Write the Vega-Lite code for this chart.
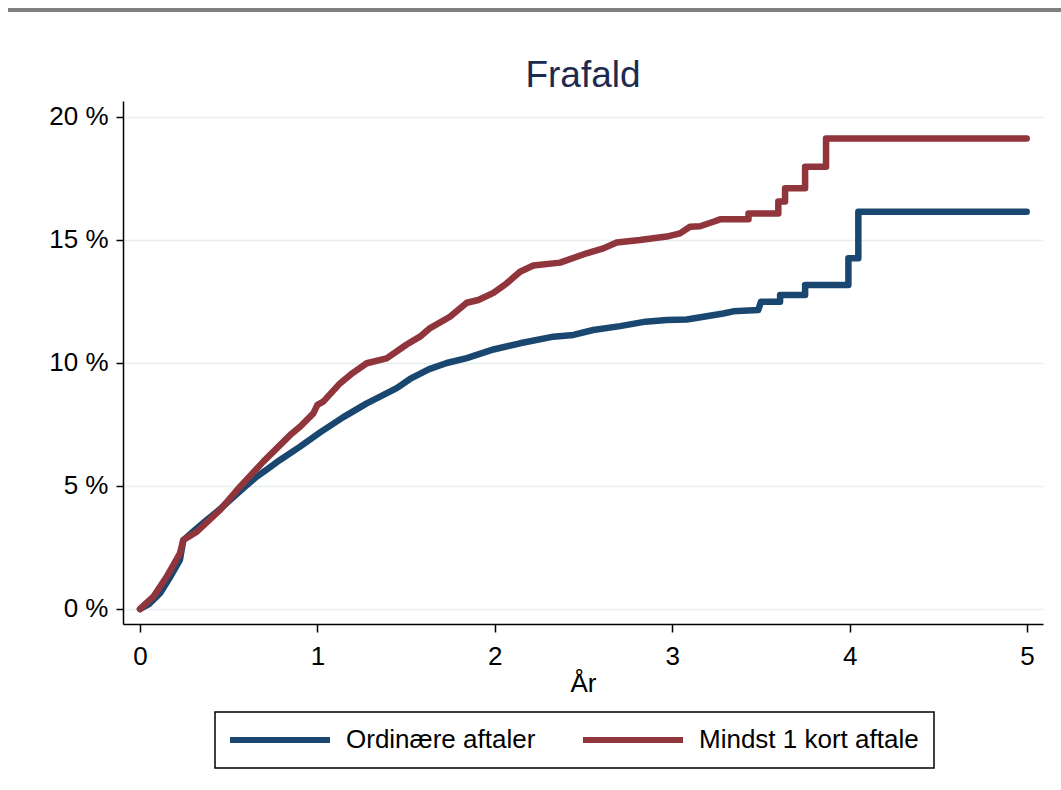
{
  "$schema": "https://vega.github.io/schema/vega-lite/v6.json",
  "width": 920,
  "height": 523,
  "autosize": {"type": "none"},
  "padding": {"left": 123, "top": 101, "right": 18, "bottom": 166},
  "background": "white",
  "config": {
    "view": {"stroke": null},
    "font": "Liberation Sans",
    "legend": {"strokeWidth": 1.5}
  },
  "title": {
    "text": "Frafald",
    "fontSize": 37,
    "font": "Liberation Sans",
    "fontWeight": "normal",
    "color": "#1c2a52",
    "anchor": "middle",
    "offset": 12,
    "dy": 98
  },
  "data": {
    "values": [
      {"serie": "Ordinære aftaler", "x": 0, "y": 0},
      {"serie": "Ordinære aftaler", "x": 0.05, "y": 0.2},
      {"serie": "Ordinære aftaler", "x": 0.113, "y": 0.64},
      {"serie": "Ordinære aftaler", "x": 0.17, "y": 1.3},
      {"serie": "Ordinære aftaler", "x": 0.225, "y": 2.0},
      {"serie": "Ordinære aftaler", "x": 0.244, "y": 2.8},
      {"serie": "Ordinære aftaler", "x": 0.3, "y": 3.15},
      {"serie": "Ordinære aftaler", "x": 0.376, "y": 3.62},
      {"serie": "Ordinære aftaler", "x": 0.45, "y": 4.05},
      {"serie": "Ordinære aftaler", "x": 0.507, "y": 4.43},
      {"serie": "Ordinære aftaler", "x": 0.58, "y": 4.9},
      {"serie": "Ordinære aftaler", "x": 0.658, "y": 5.38},
      {"serie": "Ordinære aftaler", "x": 0.72, "y": 5.7},
      {"serie": "Ordinære aftaler", "x": 0.789, "y": 6.06},
      {"serie": "Ordinære aftaler", "x": 0.902, "y": 6.6},
      {"serie": "Ordinære aftaler", "x": 1.015, "y": 7.18},
      {"serie": "Ordinære aftaler", "x": 1.146, "y": 7.8},
      {"serie": "Ordinære aftaler", "x": 1.278, "y": 8.36},
      {"serie": "Ordinære aftaler", "x": 1.353, "y": 8.63},
      {"serie": "Ordinære aftaler", "x": 1.447, "y": 8.98},
      {"serie": "Ordinære aftaler", "x": 1.522, "y": 9.35},
      {"serie": "Ordinære aftaler", "x": 1.63, "y": 9.75},
      {"serie": "Ordinære aftaler", "x": 1.729, "y": 10.0},
      {"serie": "Ordinære aftaler", "x": 1.842, "y": 10.2},
      {"serie": "Ordinære aftaler", "x": 1.992, "y": 10.55},
      {"serie": "Ordinære aftaler", "x": 2.142, "y": 10.8},
      {"serie": "Ordinære aftaler", "x": 2.33, "y": 11.07},
      {"serie": "Ordinære aftaler", "x": 2.443, "y": 11.14},
      {"serie": "Ordinære aftaler", "x": 2.555, "y": 11.34},
      {"serie": "Ordinære aftaler", "x": 2.706, "y": 11.5},
      {"serie": "Ordinære aftaler", "x": 2.85, "y": 11.68},
      {"serie": "Ordinære aftaler", "x": 2.969, "y": 11.75},
      {"serie": "Ordinære aftaler", "x": 3.082, "y": 11.77},
      {"serie": "Ordinære aftaler", "x": 3.194, "y": 11.9},
      {"serie": "Ordinære aftaler", "x": 3.288, "y": 12.01},
      {"serie": "Ordinære aftaler", "x": 3.344, "y": 12.1},
      {"serie": "Ordinære aftaler", "x": 3.485, "y": 12.15},
      {"serie": "Ordinære aftaler", "x": 3.5, "y": 12.49},
      {"serie": "Ordinære aftaler", "x": 3.608, "y": 12.49},
      {"serie": "Ordinære aftaler", "x": 3.608, "y": 12.76},
      {"serie": "Ordinære aftaler", "x": 3.749, "y": 12.76},
      {"serie": "Ordinære aftaler", "x": 3.749, "y": 13.17},
      {"serie": "Ordinære aftaler", "x": 3.993, "y": 13.17},
      {"serie": "Ordinære aftaler", "x": 3.993, "y": 14.26},
      {"serie": "Ordinære aftaler", "x": 4.049, "y": 14.26},
      {"serie": "Ordinære aftaler", "x": 4.049, "y": 16.15},
      {"serie": "Ordinære aftaler", "x": 4.998, "y": 16.15},
      {"serie": "Mindst 1 kort aftale", "x": 0, "y": 0},
      {"serie": "Mindst 1 kort aftale", "x": 0.075, "y": 0.5},
      {"serie": "Mindst 1 kort aftale", "x": 0.15, "y": 1.31},
      {"serie": "Mindst 1 kort aftale", "x": 0.225, "y": 2.26},
      {"serie": "Mindst 1 kort aftale", "x": 0.244, "y": 2.8},
      {"serie": "Mindst 1 kort aftale", "x": 0.32, "y": 3.14},
      {"serie": "Mindst 1 kort aftale", "x": 0.45, "y": 4.02},
      {"serie": "Mindst 1 kort aftale", "x": 0.564, "y": 4.97},
      {"serie": "Mindst 1 kort aftale", "x": 0.695, "y": 5.99},
      {"serie": "Mindst 1 kort aftale", "x": 0.846, "y": 7.07},
      {"serie": "Mindst 1 kort aftale", "x": 0.902, "y": 7.41},
      {"serie": "Mindst 1 kort aftale", "x": 0.977, "y": 7.95},
      {"serie": "Mindst 1 kort aftale", "x": 1.0, "y": 8.3},
      {"serie": "Mindst 1 kort aftale", "x": 1.033, "y": 8.43},
      {"serie": "Mindst 1 kort aftale", "x": 1.127, "y": 9.17},
      {"serie": "Mindst 1 kort aftale", "x": 1.2, "y": 9.6},
      {"serie": "Mindst 1 kort aftale", "x": 1.278, "y": 9.99},
      {"serie": "Mindst 1 kort aftale", "x": 1.39, "y": 10.19},
      {"serie": "Mindst 1 kort aftale", "x": 1.503, "y": 10.75},
      {"serie": "Mindst 1 kort aftale", "x": 1.578, "y": 11.07},
      {"serie": "Mindst 1 kort aftale", "x": 1.635, "y": 11.42},
      {"serie": "Mindst 1 kort aftale", "x": 1.747, "y": 11.88},
      {"serie": "Mindst 1 kort aftale", "x": 1.842, "y": 12.45},
      {"serie": "Mindst 1 kort aftale", "x": 1.907, "y": 12.56},
      {"serie": "Mindst 1 kort aftale", "x": 1.992, "y": 12.85},
      {"serie": "Mindst 1 kort aftale", "x": 2.067, "y": 13.24},
      {"serie": "Mindst 1 kort aftale", "x": 2.142, "y": 13.71},
      {"serie": "Mindst 1 kort aftale", "x": 2.217, "y": 13.96},
      {"serie": "Mindst 1 kort aftale", "x": 2.368, "y": 14.08},
      {"serie": "Mindst 1 kort aftale", "x": 2.518, "y": 14.46},
      {"serie": "Mindst 1 kort aftale", "x": 2.612, "y": 14.66},
      {"serie": "Mindst 1 kort aftale", "x": 2.687, "y": 14.9},
      {"serie": "Mindst 1 kort aftale", "x": 2.818, "y": 15.0},
      {"serie": "Mindst 1 kort aftale", "x": 2.969, "y": 15.14},
      {"serie": "Mindst 1 kort aftale", "x": 3.044, "y": 15.27},
      {"serie": "Mindst 1 kort aftale", "x": 3.1, "y": 15.54},
      {"serie": "Mindst 1 kort aftale", "x": 3.157, "y": 15.56},
      {"serie": "Mindst 1 kort aftale", "x": 3.232, "y": 15.74},
      {"serie": "Mindst 1 kort aftale", "x": 3.27, "y": 15.84},
      {"serie": "Mindst 1 kort aftale", "x": 3.43, "y": 15.84},
      {"serie": "Mindst 1 kort aftale", "x": 3.43, "y": 16.08},
      {"serie": "Mindst 1 kort aftale", "x": 3.598, "y": 16.08},
      {"serie": "Mindst 1 kort aftale", "x": 3.598, "y": 16.56},
      {"serie": "Mindst 1 kort aftale", "x": 3.636, "y": 16.56},
      {"serie": "Mindst 1 kort aftale", "x": 3.636, "y": 17.1},
      {"serie": "Mindst 1 kort aftale", "x": 3.749, "y": 17.1},
      {"serie": "Mindst 1 kort aftale", "x": 3.749, "y": 17.98},
      {"serie": "Mindst 1 kort aftale", "x": 3.867, "y": 17.98},
      {"serie": "Mindst 1 kort aftale", "x": 3.867, "y": 19.13},
      {"serie": "Mindst 1 kort aftale", "x": 4.998, "y": 19.13}
    ]
  },
  "encoding": {
    "x": {
      "field": "x",
      "type": "quantitative",
      "scale": {"domain": [-0.096, 5.09], "nice": false, "zero": false},
      "axis": {
        "values": [0, 1, 2, 3, 4, 5],
        "format": "d",
        "title": "År",
        "grid": false,
        "domainColor": "black",
        "domainWidth": 1.5,
        "tickColor": "black",
        "tickWidth": 1.5,
        "tickSize": 8,
        "labelFontSize": 26,
        "labelColor": "black",
        "labelPadding": 11,
        "labelFlush": false,
        "titleFontSize": 26,
        "titleFontWeight": "normal",
        "titleColor": "black",
        "titlePadding": 1
      }
    },
    "y": {
      "field": "y",
      "type": "quantitative",
      "scale": {"domain": [-0.61, 20.65], "nice": false, "zero": false},
      "axis": {
        "values": [0, 5, 10, 15, 20],
        "labelExpr": "datum.value + ' %'",
        "title": null,
        "grid": true,
        "gridColor": "#e6eef0",
        "gridWidth": 1.5,
        "domainColor": "black",
        "domainWidth": 1.5,
        "tickColor": "black",
        "tickWidth": 1.5,
        "tickSize": 7,
        "labelFontSize": 26,
        "labelColor": "black",
        "labelPadding": 8,
        "labelFlush": false
      }
    },
    "order": [{"field": "x", "type": "quantitative"}, {"field": "y", "type": "quantitative"}],
    "color": {
      "field": "serie",
      "type": "nominal",
      "scale": {"domain": ["Ordinære aftaler", "Mindst 1 kort aftale"], "range": ["#1a476f", "#90353b"]},
      "legend": {
        "title": null,
        "orient": "none",
        "legendX": 92,
        "legendY": 611,
        "direction": "horizontal",
        "symbolType": "M-5,0H5",
        "symbolSize": 400,
        "symbolStrokeWidth": 6,
        "symbolOffset": 37,
        "labelFontSize": 26,
        "labelColor": "black",
        "labelLimit": 500,
        "strokeColor": "black",
        "fillColor": "white",
        "padding": 15,
        "columnPadding": 35,
        "labelOffset": 53
      }
    }
  },
  "layer": [
    {
      "transform": [{"filter": "datum.serie === 'Ordinære aftaler'"}],
      "mark": {"type": "line", "strokeWidth": 6.5, "strokeCap": "round", "strokeJoin": "round"}
    },
    {
      "transform": [{"filter": "datum.serie === 'Mindst 1 kort aftale'"}],
      "mark": {"type": "line", "strokeWidth": 6.5, "strokeCap": "round", "strokeJoin": "round"}
    },
    {
      "mark": {"type": "rule", "color": "#7f7f7f", "strokeWidth": 2.5, "clip": false},
      "encoding": {
        "x": {"datum": -0.744, "type": "quantitative"},
        "x2": {"datum": 5.19},
        "y": {"datum": 24.35, "type": "quantitative"},
        "color": null,
        "order": null
      }
    }
  ]
}
